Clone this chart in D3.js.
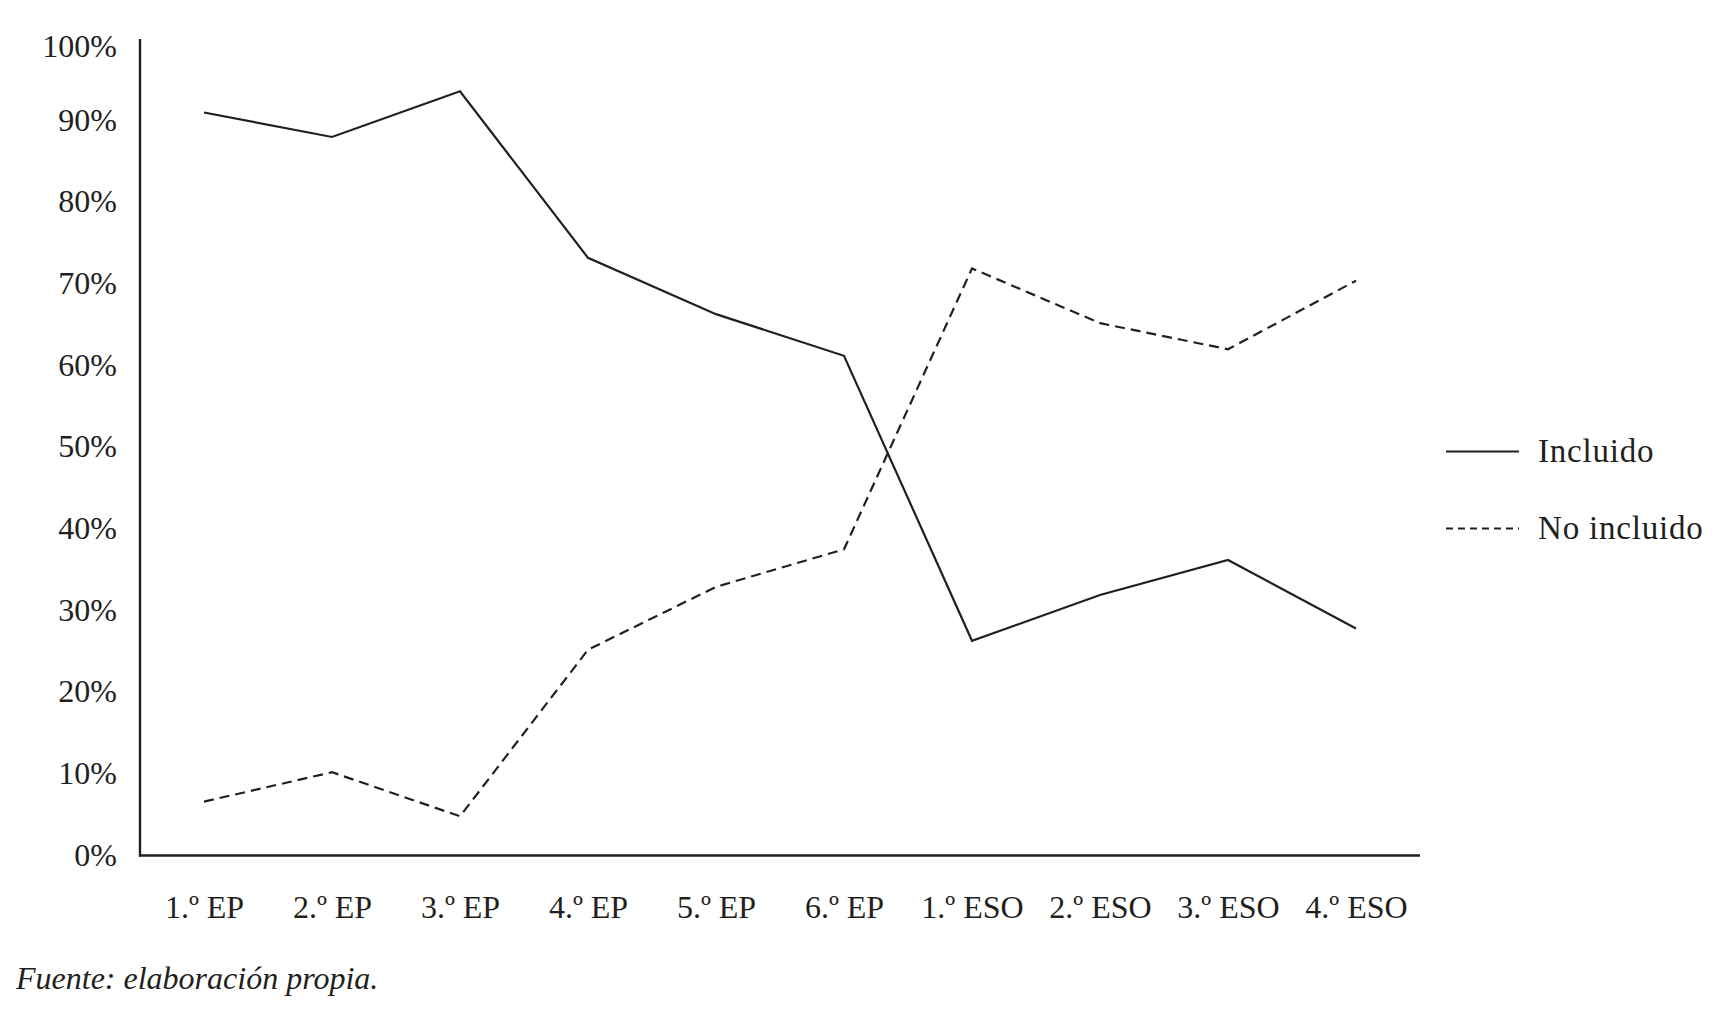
<!DOCTYPE html>
<html>
<head>
<meta charset="utf-8">
<script src="https://cdn.jsdelivr.net/npm/d3@7"></script>
<style>
  body { margin: 0; background: #fff; }
  svg { display: block; font-family: "Liberation Serif", "DejaVu Serif", serif; }
</style>
</head>
<body>
<div id="chart"></div>
<script>
// datos
var cursos = ["1.º EP", "2.º EP", "3.º EP", "4.º EP", "5.º EP", "6.º EP", "1.º ESO", "2.º ESO", "3.º ESO", "4.º ESO"]
var incluido = [91.0, 88.0, 93.6, 73.2, 66.3, 61.2, 26.3, 31.9, 36.2, 27.8]
var noIncluido = [6.6, 10.2, 4.8, 25.2, 32.9, 37.5, 71.9, 65.2, 62.0, 70.4]
var yTicks = [0, 10, 20, 30, 40, 50, 60, 70, 80, 90, 100]
var series = [
  {name: "Incluido", values: incluido, dash: null, legendDash: null},
  {name: "No incluido", values: noIncluido, dash: "10,6", legendDash: "7,5"}
]
var fuente = "Fuente: elaboración propia."

var width = 1727
var height = 1011
var ink = "#231f20"
var serif = "'Liberation Serif', 'DejaVu Serif', serif"
var fontSize = 32

var plot = {left: 140, right: 1420, top: 39, bottom: 855.5}

var svg = d3.select("#chart").append("svg")
  .attr("width", width)
  .attr("height", height)

var x = d3.scalePoint()
  .domain(cursos)
  .range([plot.left, plot.right])
  .padding(0.5)

var y = d3.scaleLinear()
  .domain([0, 100])
  .range([plot.bottom, plot.top])

// eje y (solo etiquetas, la linea se dibuja aparte)
var gy = svg.append("g")
  .attr("transform", `translate(${plot.left},0)`)
  .call(d3.axisLeft(y).tickValues(yTicks).tickSize(0).tickPadding(23).tickFormat(d => d + "%"))
gy.attr("font-family", serif).attr("font-size", fontSize)
gy.select(".domain").remove()
gy.selectAll("text")
  .attr("fill", ink)
  .attr("dy", "0.3em")
// la etiqueta de 100% queda algo mas abajo en el original
gy.selectAll(".tick text").filter(d => d === 100).attr("dy", "0.55em")

var gx = svg.append("g")
  .attr("transform", `translate(0,${plot.bottom})`)
  .call(d3.axisBottom(x).tickSize(0).tickPadding(40))
gx.attr("font-family", serif).attr("font-size", fontSize)
gx.select(".domain").remove()
gx.selectAll("text")
  .attr("fill", ink)
  .attr("dy", "0.71em")

// lineas de los ejes
svg.append("line")
  .attr("x1", plot.left).attr("x2", plot.left)
  .attr("y1", plot.top).attr("y2", plot.bottom + 1)
  .attr("stroke", ink).attr("stroke-width", 2.4)
svg.append("line")
  .attr("x1", plot.left - 1).attr("x2", plot.right)
  .attr("y1", plot.bottom).attr("y2", plot.bottom)
  .attr("stroke", ink).attr("stroke-width", 2.4)

var line = d3.line()
  .x((d, i) => x(cursos[i]))
  .y(d => y(d))

svg.append("g")
  .selectAll("path")
  .data(series)
  .join("path")
    .attr("d", d => line(d.values))
    .attr("fill", "none")
    .attr("stroke", ink)
    .attr("stroke-width", 2.2)
    .attr("stroke-dasharray", d => d.dash)

// leyenda
var legend = svg.append("g")
  .attr("transform", "translate(1446,451.5)")
  .selectAll("g")
  .data(series)
  .join("g")
    .attr("transform", (d, i) => `translate(0,${i * 77})`)

legend.append("line")
  .attr("x1", 0).attr("x2", 73)
  .attr("stroke", ink)
  .attr("stroke-width", 2)
  .attr("stroke-dasharray", d => d.legendDash)

legend.append("text")
  .attr("x", 92)
  .attr("y", 10)
  .attr("font-family", serif)
  .attr("font-size", 33)
  .attr("letter-spacing", 0.8)
  .attr("fill", ink)
  .text(d => d.name)

svg.append("text")
  .attr("x", 16)
  .attr("y", 989)
  .attr("font-family", serif)
  .attr("font-size", fontSize)
  .attr("font-style", "italic")
  .attr("fill", ink)
  .text(fuente)
</script>
</body>
</html>
